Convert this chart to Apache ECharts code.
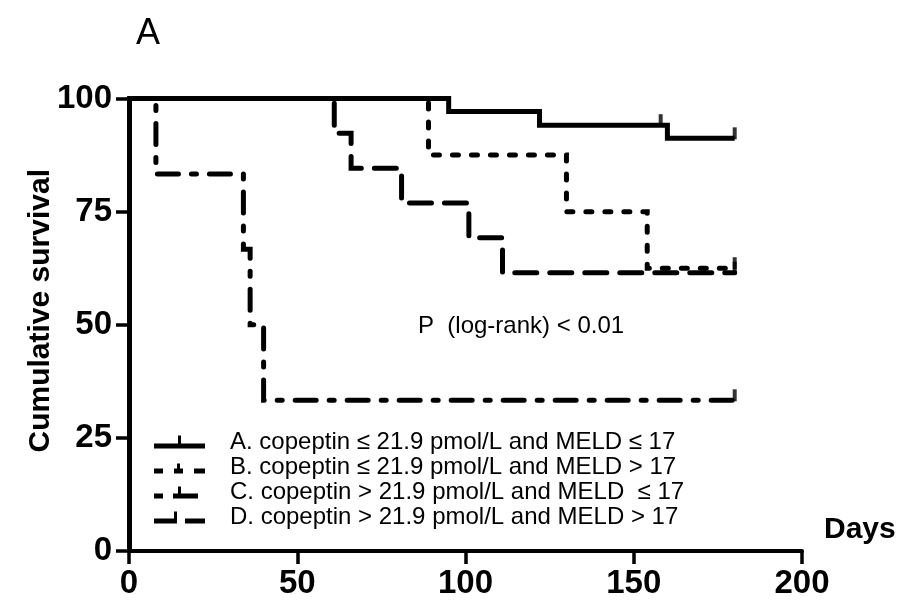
<!DOCTYPE html>
<html>
<head>
<meta charset="utf-8">
<script src="https://cdn.jsdelivr.net/npm/echarts@6/dist/echarts.min.js"></script>
<style>
html,body{margin:0;padding:0;background:#fff;}
#chart{width:900px;height:605px;}
</style>
</head>
<body>
<div id="chart"></div>
<script>
// ---- data ----
const groupNames = [
  'A. copeptin \u2264 21.9 pmol/L and MELD \u2264 17',
  'B. copeptin \u2264 21.9 pmol/L and MELD > 17',
  'C. copeptin > 21.9 pmol/L and MELD  \u2264 17',
  'D. copeptin > 21.9 pmol/L and MELD > 17'
];
const aDays = [0, 95, 122, 160, 180];
const aSurv = [100, 97.1, 94.1, 91.2, 91.2];
const aCensorDays = [158, 180];
const aCensorSurv = [94.1, 91.2];

const bDays = [0, 89, 130, 154, 180];
const bSurv = [100, 87.5, 75, 62.5, 62.5];
const bCensorDays = [180];
const bCensorSurv = [62.5];

const cDays = [0, 8, 34, 36, 40, 180];
const cSurv = [100, 83.3, 66.7, 50, 33.3, 33.3];
const cCensorDays = [180];
const cCensorSurv = [33.3];

const dDays = [0, 61, 66, 81, 101, 111, 180];
const dSurv = [100, 92.3, 84.6, 76.9, 69.2, 61.5, 61.5];
const dCensorDays = [180];
const dCensorSurv = [61.5];

const xTicks = [0, 50, 100, 150, 200];
const yTicks = [0, 25, 50, 75, 100];
const pText = 'P  (log-rank) < 0.01';

// ---- build ----
const FONT = '"Liberation Sans", Arial, sans-serif';
function pairs(xs, ys) { return xs.map((x, i) => [x, ys[i]]); }

const groups = [
  {days: aDays, surv: aSurv, cd: aCensorDays, cs: aCensorSurv, dash: 'solid', cap: 'butt',
   icon: 'path://M0,0H0.01V0.01H0Z M0,8H51V13H0Z M24,0H27V8H24Z'},
  {days: bDays, surv: bSurv, cd: bCensorDays, cs: bCensorSurv, dash: [6, 13], cap: 'round',
   icon: 'path://M0,0H0.01V0.01H0Z M0,8H9V13H0Z M20,8H29V13H20Z M23,3H26V8H23Z M40,8H51V13H40Z'},
  {days: cDays, surv: cSurv, cd: cCensorDays, cs: cCensorSurv, dash: [21, 13, 5, 13], cap: 'round',
   icon: 'path://M0,0H0.01V0.01H0Z M50.99,12.99H51V13H50.99Z M0,8H9V13H0Z M19,8H44V13H19Z M24,1H27V8H24Z'},
  {days: dDays, surv: dSurv, cd: dCensorDays, cs: dCensorSurv, dash: [22, 13], cap: 'round',
   icon: 'path://M0,0H0.01V0.01H0Z M0,8H23V13H0Z M20,1H23V8H20Z M31,8H51V13H31Z'}
];

const series = [];
groups.forEach((g, i) => {
  series.push({
    name: groupNames[i],
    type: 'line',
    step: 'end',
    symbol: 'none',
    color: '#000',
    data: pairs(g.days, g.surv),
    lineStyle: {color: '#000', width: 5, type: g.dash, cap: g.cap, join: 'miter'},
    z: 3,
    animation: false
  });
  series.push({
    type: 'scatter',
    symbol: 'rect',
    symbolSize: [4, 12],
    symbolOffset: [0, -5],
    itemStyle: {color: '#000'},
    data: pairs(g.cd, g.cs),
    z: 4,
    animation: false
  });
});

const chart = echarts.init(document.getElementById('chart'), null, {renderer: 'canvas'});
chart.setOption({
  backgroundColor: '#fff',
  animation: false,
  title: {
    text: 'A', left: 131, top: 11,
    textStyle: {fontFamily: FONT, fontSize: 36, fontWeight: 'normal', color: '#000'}
  },
  grid: {left: 129, right: 98, top: 98.5, bottom: 54, containLabel: false},
  legend: {
    orient: 'vertical', left: 154, top: 429.5, padding: 0, itemGap: 0,
    itemWidth: 51, itemHeight: 13,
    data: groupNames.map((n, i) => ({name: n, icon: groups[i].icon})),
    itemStyle: {color: '#000', borderWidth: 0},
    selectedMode: false,
    textStyle: {fontFamily: FONT, fontSize: 24, color: '#000', lineHeight: 19, padding: [6, 0, 0, 20]}
  },
  xAxis: {
    type: 'value', min: xTicks[0], max: xTicks[xTicks.length - 1], interval: 50,
    name: 'Days', nameLocation: 'end', nameGap: 22, nameMoveOverlap: false,
    nameTextStyle: {fontFamily: FONT, fontSize: 30, fontWeight: 'bold', color: '#000',
      align: 'left', verticalAlign: 'bottom', lineHeight: 30, padding: [0, 0, 6, 0]},
    splitLine: {show: false},
    axisLine: {lineStyle: {color: '#000', width: 4}},
    axisTick: {length: 13, lineStyle: {color: '#000', width: 3.5}},
    axisLabel: {margin: 16, fontFamily: FONT, fontSize: 33, fontWeight: 'bold', color: '#000'}
  },
  yAxis: {
    type: 'value', min: yTicks[0], max: yTicks[yTicks.length - 1], interval: 25,
    name: 'Cumulative survival', nameLocation: 'middle', nameGap: 73, nameRotate: 90,
    nameMoveOverlap: false,
    nameTextStyle: {fontFamily: FONT, fontSize: 30, fontWeight: 'bold', color: '#000', padding: [0, 0, 0, 28]},
    splitLine: {show: false},
    axisLine: {show: true, lineStyle: {color: '#000', width: 5}},
    axisTick: {show: true, length: 13, lineStyle: {color: '#000', width: 3.5}},
    axisLabel: {margin: 17, fontFamily: FONT, fontSize: 33, fontWeight: 'bold', color: '#000'}
  },
  graphic: [{
    type: 'text', left: 418, top: 314,
    style: {text: pText, font: '24px ' + FONT, fill: '#000'}
  }],
  series: series
});
</script>
</body>
</html>
